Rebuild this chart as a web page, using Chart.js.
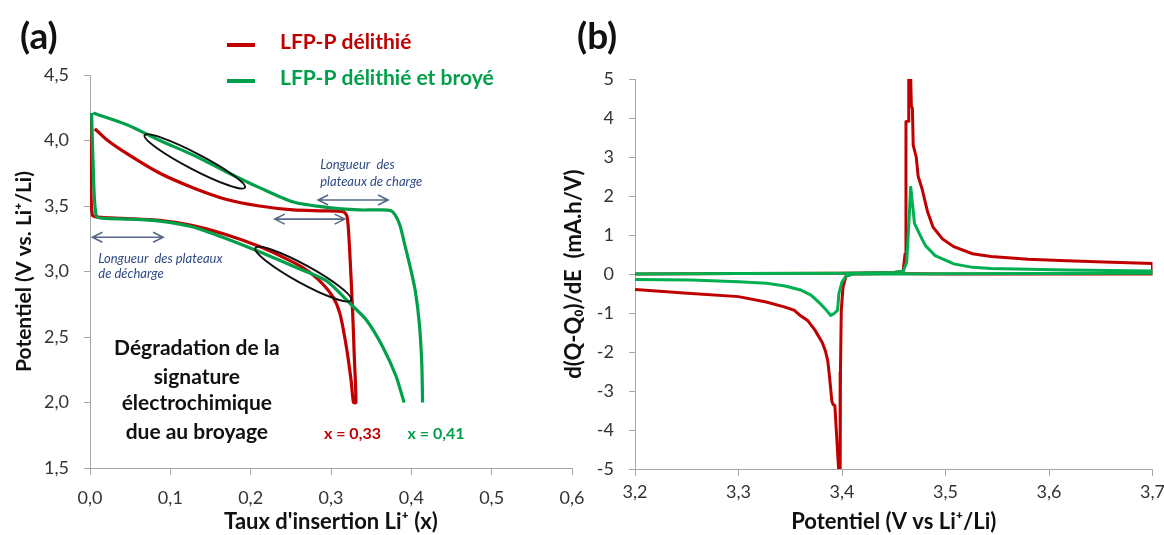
<!DOCTYPE html>
<html>
<head>
<meta charset="utf-8">
<script src="https://cdn.jsdelivr.net/npm/chart.js@4.4.0/dist/chart.umd.min.js"></script>
<style>
  html, body { margin: 0; padding: 0; background: #fff; overflow: hidden; width: 1164px; height: 535px; }
  #boxA { position: absolute; left: 0; top: 0; }
  #boxB { position: absolute; left: 555px; top: 0; }
</style>
</head>
<body>
<div id="boxA"><canvas id="chartA" width="600" height="535"></canvas></div>
<div id="boxB"><canvas id="chartB" width="615" height="535"></canvas></div>
<script>
// series names
var seriesNames = ['LFP-P délithié', 'LFP-P délithié et broyé'];

// (a) galvanostatic cycle : insertion rate x vs potential (V vs Li+/Li)
var xRed = [0.001, 0.001, 0.003, 0.010, 0.040, 0.087, 0.128, 0.170, 0.211, 0.240, 0.265, 0.284, 0.302, 0.311, 0.319, 0.325, 0.328,
            0.331, 0.329, 0.327, 0.323, 0.320, 0.315, 0.290, 0.253, 0.211, 0.170, 0.128, 0.087, 0.046, 0.020, 0.006];
var vRed = [4.21, 3.70, 3.43, 3.415, 3.405, 3.39, 3.35, 3.28, 3.19, 3.11, 3.03, 2.94, 2.81, 2.68, 2.43, 2.17, 2.00,
            2.00, 2.35, 2.68, 3.19, 3.42, 3.457, 3.463, 3.47, 3.50, 3.55, 3.64, 3.75, 3.90, 4.01, 4.09];
var xGreenDischarge = [0.002, 0.004, 0.008, 0.020, 0.050, 0.087, 0.128, 0.170, 0.211, 0.253, 0.294, 0.323, 0.344, 0.364, 0.381, 0.391];
var vGreenDischarge = [4.21, 3.80, 3.42, 3.405, 3.40, 3.385, 3.34, 3.25, 3.15, 3.04, 2.93, 2.76, 2.63, 2.43, 2.20, 2.00];
var xGreenCharge = [0.414, 0.413, 0.410, 0.405, 0.398, 0.392, 0.386, 0.380, 0.374, 0.360, 0.335, 0.294, 0.253, 0.211, 0.170, 0.128, 0.087, 0.046, 0.004];
var vGreenCharge = [2.00, 2.30, 2.60, 2.85, 3.05, 3.20, 3.35, 3.43, 3.465, 3.47, 3.47, 3.49, 3.53, 3.64, 3.76, 3.89, 4.00, 4.12, 4.21];

// (b) derivative curves : potential vs d(Q-Q0)/dE
var eRedCharge = [3.200, 3.300, 3.400, 3.450, 3.459, 3.4609, 3.4618, 3.4638, 3.4645, 3.4660, 3.4670, 3.4680, 3.4688, 3.4717, 3.4736,
                  3.4772, 3.4826, 3.4880, 3.4971, 3.5080, 3.5260, 3.5440, 3.5800, 3.6170, 3.6530, 3.7000];
var dqRedCharge = [0.00, 0.01, 0.02, 0.04, 0.07, 0.50, 3.90, 3.92, 5.50, 5.50, 4.30, 4.25, 3.30, 3.00, 2.50,
                   2.20, 1.60, 1.20, 0.90, 0.70, 0.52, 0.45, 0.38, 0.34, 0.31, 0.27];
var eRedDischarge = [3.700, 3.600, 3.500, 3.450, 3.410, 3.404, 3.401, 3.3993, 3.3985, 3.3982, 3.3970, 3.3967, 3.3931, 3.3913, 3.3902,
                     3.3880, 3.3862, 3.3840, 3.3810, 3.3770, 3.3739, 3.3667, 3.3594, 3.3540, 3.3449, 3.3268, 3.300, 3.2543, 3.200];
var dqRedDischarge = [0.00, 0.00, 0.00, 0.01, 0.00, -0.05, -0.33, -0.93, -2.50, -5.50, -5.50, -5.00, -3.38, -3.34, -3.26,
                      -2.65, -2.22, -1.98, -1.76, -1.58, -1.44, -1.19, -1.06, -0.93, -0.85, -0.72, -0.58, -0.50, -0.40];
var eGreenCharge = [3.200, 3.300, 3.400, 3.450, 3.459, 3.4625, 3.4650, 3.4663, 3.4681, 3.4700, 3.4736, 3.4772, 3.4808, 3.4900,
                    3.5080, 3.5260, 3.5440, 3.5800, 3.6170, 3.6600, 3.7000];
var dqGreenCharge = [0.00, 0.01, 0.02, 0.04, 0.07, 0.30, 1.50, 2.25, 1.80, 1.30, 1.10, 0.90, 0.72, 0.47,
                     0.26, 0.17, 0.14, 0.12, 0.10, 0.09, 0.08];
var eGreenDischarge = [3.700, 3.600, 3.500, 3.450, 3.410, 3.404, 3.400, 3.397, 3.3957, 3.392, 3.389, 3.385, 3.379, 3.370,
                       3.360, 3.345, 3.327, 3.300, 3.254, 3.200];
var dqGreenDischarge = [0.02, 0.01, 0.005, 0.00, 0.00, -0.05, -0.20, -0.50, -0.93, -1.02, -1.06, -0.93, -0.76, -0.54,
                        -0.41, -0.31, -0.24, -0.20, -0.155, -0.14];

var RED = '#c00000';
var GREEN_A = '#00a04a';
var GREEN_B = '#00b050';
var AXIS = '#a6a6a6';

Chart.defaults.font.family = "Lato, 'Open Sans', sans-serif";
Chart.defaults.color = '#333';

function pts(xs, ys) {
  return xs.map(function (x, i) { return { x: x, y: ys[i] }; });
}
function comma(v, d) {
  return Number(v).toFixed(d).replace('.', ',');
}

// little drawing helpers for the annotations of (a)
function ellipseAt(ctx, sx, sy, p1, p2, b) {
  var ax = sx.getPixelForValue(p1[0]), ay = sy.getPixelForValue(p1[1]);
  var bx = sx.getPixelForValue(p2[0]), by = sy.getPixelForValue(p2[1]);
  ctx.beginPath();
  ctx.ellipse((ax + bx) / 2, (ay + by) / 2, Math.hypot(bx - ax, by - ay) / 2, b, Math.atan2(by - ay, bx - ax), 0, Math.PI * 2);
  ctx.stroke();
}
function dblArrow(ctx, sx, sy, x1, x2, v) {
  var p1 = sx.getPixelForValue(x1), p2 = sx.getPixelForValue(x2), py = sy.getPixelForValue(v);
  ctx.beginPath();
  ctx.moveTo(p1, py); ctx.lineTo(p2, py);
  ctx.moveTo(p1 + 10, py - 5); ctx.lineTo(p1, py); ctx.lineTo(p1 + 10, py + 5);
  ctx.moveTo(p2 - 10, py - 5); ctx.lineTo(p2, py); ctx.lineTo(p2 - 10, py + 5);
  ctx.stroke();
}

var annotA = {
  id: 'annotA',
  afterDatasetsDraw: function (chart) {
    var ctx = chart.ctx, sx = chart.scales.x, sy = chart.scales.y;
    ctx.save();
    // ellipses
    ctx.strokeStyle = '#111';
    ctx.lineWidth = 2;
    ellipseAt(ctx, sx, sy, [0.068, 4.04], [0.193, 3.64], 8);
    ellipseAt(ctx, sx, sy, [0.206, 3.18], [0.325, 2.78], 9);
    // plateau arrows
    ctx.strokeStyle = '#56688a';
    ctx.lineWidth = 1.6;
    dblArrow(ctx, sx, sy, 0.284, 0.371, 3.546);
    dblArrow(ctx, sx, sy, 0.230, 0.317, 3.40);
    dblArrow(ctx, sx, sy, 0.003, 0.091, 3.261);
    // italic notes
    ctx.fillStyle = '#2f4a86';
    ctx.font = 'italic 13px Lato';
    ctx.textAlign = 'left';
    ctx.textBaseline = 'middle';
    ctx.fillText('Longueur  des', sx.getPixelForValue(0.2866), sy.getPixelForValue(3.813));
    ctx.fillText('plateaux de charge', sx.getPixelForValue(0.2866), sy.getPixelForValue(3.685));
    ctx.fillText('Longueur  des plateaux', sx.getPixelForValue(0.0103), sy.getPixelForValue(3.10));
    ctx.fillText('de décharge', sx.getPixelForValue(0.0103), sy.getPixelForValue(2.986));
    // comment block
    ctx.fillStyle = '#111';
    ctx.font = 'bold 21px Lato';
    ctx.textAlign = 'center';
    var lines = ['Dégradation de la', 'signature', 'électrochimique', 'due au broyage'];
    var lv = [2.416, 2.195, 1.996, 1.775];
    lines.forEach(function (t, i) {
      ctx.fillText(t, sx.getPixelForValue(0.133), sy.getPixelForValue(lv[i]));
    });
    // end-of-discharge values
    ctx.font = 'bold 16px Lato';
    ctx.fillStyle = RED;
    ctx.fillText('x = 0,33', sx.getPixelForValue(0.3267), sy.getPixelForValue(1.76));
    ctx.fillStyle = GREEN_A;
    ctx.fillText('x = 0,41', sx.getPixelForValue(0.4307), sy.getPixelForValue(1.76));
    ctx.restore();
  },
  afterDraw: function (chart) {
    var ctx = chart.ctx;
    ctx.save();
    // panel letter
    ctx.fillStyle = '#111';
    ctx.font = 'bold 37px Lato';
    ctx.textAlign = 'left';
    ctx.textBaseline = 'middle';
    ctx.fillText('(a)', 20, 37);
    // legend
    var items = chart.data.datasets.map(function (ds) { return { text: ds.label, color: ds.borderColor }; });
    var rows = [44, 80];
    ctx.font = 'bold 21px Lato';
    items.forEach(function (it, i) {
      ctx.strokeStyle = it.color;
      ctx.lineWidth = 4;
      ctx.beginPath();
      ctx.moveTo(227, rows[i] + 1);
      ctx.lineTo(255, rows[i] + 1);
      ctx.stroke();
      ctx.fillStyle = it.color;
      ctx.fillText(it.text, 280, rows[i] - 2);
    });
    ctx.restore();
  }
};

var annotB = {
  id: 'annotB',
  afterDraw: function (chart) {
    var ctx = chart.ctx;
    ctx.save();
    ctx.fillStyle = '#111';
    ctx.font = 'bold 37px Lato';
    ctx.textAlign = 'left';
    ctx.textBaseline = 'middle';
    ctx.fillText('(b)', 22, 37);
    ctx.restore();
  }
};

var titleFont = { size: 22, weight: 'bold' };
var tickFont = { size: 18 };

new Chart(document.getElementById('chartA'), {
  type: 'scatter',
  data: {
    datasets: [
      { label: seriesNames[0], data: pts(xRed, vRed), borderColor: RED, backgroundColor: RED, showLine: true, order: 1 },
      { label: seriesNames[1],
        data: pts(xGreenDischarge, vGreenDischarge).concat([{ x: null, y: null }], pts(xGreenCharge, vGreenCharge)),
        borderColor: GREEN_A, backgroundColor: GREEN_A, showLine: true, spanGaps: false, order: 0 }
    ]
  },
  options: {
    responsive: false,
    animation: false,
    layout: { padding: { top: 75, right: 28, bottom: 0, left: 0 } },
    elements: { point: { radius: 0 }, line: { borderWidth: 3.2, tension: 0.25 } },
    plugins: { legend: { display: false }, tooltip: { enabled: false } },
    scales: {
      x: {
        type: 'linear', min: 0, max: 0.6,
        ticks: { stepSize: 0.1, padding: 12, font: tickFont, color: '#333', callback: function (v) { return comma(v, 1); } },
        grid: { drawOnChartArea: false, tickLength: 7, color: AXIS },
        border: { color: AXIS },
        title: { display: true, text: "Taux d'insertion Li\u207A (x)", color: '#111', font: titleFont, padding: { top: 0, bottom: 0 } },
        afterFit: function (s) { s.height = 67; }
      },
      y: {
        type: 'linear', min: 1.5, max: 4.5,
        ticks: { stepSize: 0.5, padding: 15, font: tickFont, color: '#333', callback: function (v) { return comma(v, 1); } },
        grid: { drawOnChartArea: false, tickLength: 6, color: AXIS },
        border: { color: AXIS },
        title: { display: true, text: 'Potentiel (V vs. Li\u207A/Li)', color: '#111', font: { size: 21, weight: 'bold' }, padding: { top: 12, bottom: 0 } },
        afterFit: function (s) { s.width = 90; }
      }
    }
  },
  plugins: [annotA]
});

new Chart(document.getElementById('chartB'), {
  type: 'scatter',
  data: {
    datasets: [
      { label: seriesNames[0], data: pts(eRedCharge.concat(eRedDischarge), dqRedCharge.concat(dqRedDischarge)),
        borderColor: RED, backgroundColor: RED, showLine: true, order: 1 },
      { label: seriesNames[1], data: pts(eGreenCharge.concat(eGreenDischarge), dqGreenCharge.concat(dqGreenDischarge)),
        borderColor: GREEN_B, backgroundColor: GREEN_B, showLine: true, order: 0 }
    ]
  },
  options: {
    responsive: false,
    animation: false,
    layout: { padding: { top: 79, right: 17, bottom: 0, left: 0 } },
    elements: { point: { radius: 0 }, line: { borderWidth: 3, tension: 0 } },
    plugins: { legend: { display: false }, tooltip: { enabled: false } },
    scales: {
      x: {
        type: 'linear', min: 3.2, max: 3.7,
        ticks: { stepSize: 0.1, padding: 5, font: tickFont, color: '#333', callback: function (v) { return comma(v, 1); } },
        grid: { drawOnChartArea: false, tickLength: 7, color: AXIS },
        border: { color: AXIS },
        title: { display: true, text: 'Potentiel (V vs Li\u207A/Li)', color: '#111', font: titleFont, padding: { top: 0, bottom: 0 } },
        afterFit: function (s) { s.height = 66; }
      },
      y: {
        type: 'linear', min: -5, max: 5,
        ticks: { stepSize: 1, padding: 15, font: tickFont, color: '#333' },
        grid: { drawOnChartArea: false, tickLength: 6, color: AXIS },
        border: { color: AXIS },
        title: { display: true, text: 'd(Q-Q\u2080)/dE  (mA.h/V)', color: '#111', font: titleFont, padding: { top: 6, bottom: 0 } },
        afterFit: function (s) { s.width = 80; }
      }
    }
  },
  plugins: [annotB]
});
</script>
</body>
</html>
